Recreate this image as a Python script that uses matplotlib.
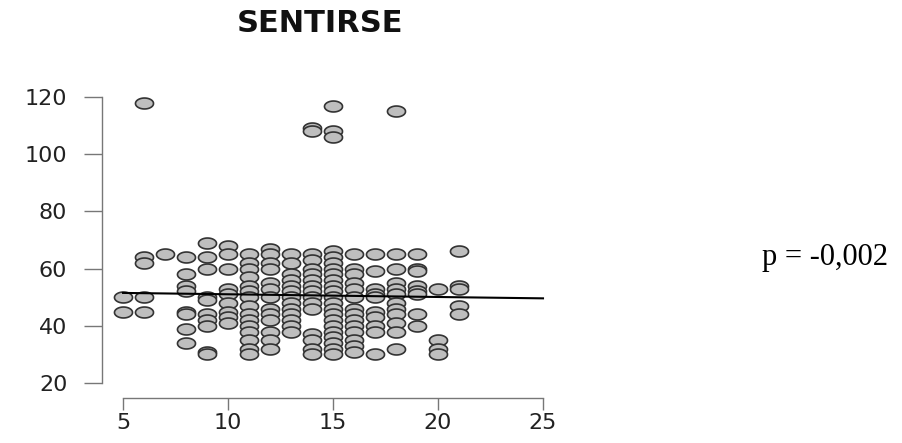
import matplotlib
matplotlib.use("Agg")
import matplotlib.pyplot as plt
import numpy as np
from matplotlib.path import Path

# x levels and the y values read for each level
x_levels = [5, 6, 7, 8, 9, 10, 11, 12, 13, 14, 15, 16, 17, 18, 19, 20, 21]
y_groups = [
    [50, 45],
    [118, 64, 62, 50, 45],
    [65],
    [64, 58, 54, 52, 45, 44, 39, 34],
    [69, 64, 60, 50, 49, 44, 42, 40, 31, 30],
    [68, 65, 60, 53, 51, 48, 45, 43, 41],
    [65, 62, 60, 57, 54, 52, 50, 47, 44, 42, 40, 38, 35, 32, 30],
    [67, 65, 62, 60, 55, 53, 50, 46, 44, 42, 38, 35, 32],
    [65, 62, 58, 56, 54, 52, 50, 48, 46, 44, 42, 40, 38],
    [109, 108, 65, 63, 60, 58, 56, 54, 52, 50, 48, 46, 37, 35, 32, 30],
    [117, 108, 106, 66, 64, 62, 60, 58, 56, 54, 52, 50, 48, 46, 44, 42, 40,
     38, 36, 34, 32, 30],
    [65, 60, 58, 55, 53, 50, 46, 44, 42, 40, 38, 35, 33, 31],
    [65, 59, 53, 51, 50, 45, 43, 40, 38, 30],
    [115, 65, 60, 55, 53, 51, 48, 46, 44, 41, 38, 32],
    [65, 60, 59, 54, 52, 51, 44, 40],
    [53, 35, 32, 30],
    [66, 54, 53, 47, 44],
]

# fitted line end points
line_x = [5, 25]
line_y = [51.5, 49.6]

x_ticks = [5, 10, 15, 20, 25]
y_ticks = [20, 40, 60, 80, 100, 120]

title = "SENTIRSE"
note = "p = -0,002"

x_all = np.concatenate([[x] * len(ys) for x, ys in zip(x_levels, y_groups)])
y_all = np.concatenate(y_groups)

# the source image is stretched horizontally, so use an ellipse marker
t = np.linspace(0, 2 * np.pi, 60)
ellipse = Path(np.column_stack([1.65 * np.cos(t), np.sin(t)]))

fig = plt.figure(figsize=(9.03, 4.43), dpi=100)
ax = fig.add_axes([102 / 903, 1 - 398 / 443, (564 - 102) / 903, (398 - 82) / 443])

ax.scatter(x_all, y_all, marker=ellipse, s=13 ** 2, facecolor="#bebebe",
           edgecolor="#333333", linewidths=1.2, zorder=2)
ax.plot(line_x, line_y, color="black", lw=1.5, zorder=3)

ax.set_xlim(4.0, 26.0)
ax.set_ylim(14.76, 125.24)

for side in ["top", "right"]:
    ax.spines[side].set_visible(False)
ax.spines["left"].set_bounds(20, 120)
ax.spines["bottom"].set_bounds(5, 25)
for side in ["left", "bottom"]:
    ax.spines[side].set_color("#777777")
    ax.spines[side].set_linewidth(1.0)

ax.set_xticks(x_ticks)
ax.set_yticks(y_ticks)
ax.tick_params(axis="x", length=8.5, width=1.0, color="#777777", pad=2,
               labelsize=16, labelcolor="#222222")
ax.tick_params(axis="y", length=13, width=1.0, color="#777777", pad=12,
               labelsize=16, labelcolor="#222222")
for lab in ax.get_xticklabels() + ax.get_yticklabels():
    lab.set_family("DejaVu Sans")

fig.text(320 / 903, 1 - 23 / 443, title, ha="center", va="center",
         fontsize=22, fontweight="bold", family="DejaVu Sans", color="#111111")
fig.text(762 / 903, 1 - 258 / 443, note, ha="left", va="center",
         fontsize=22, family="Liberation Serif", color="black")

fig.savefig("out.png", dpi=100)
